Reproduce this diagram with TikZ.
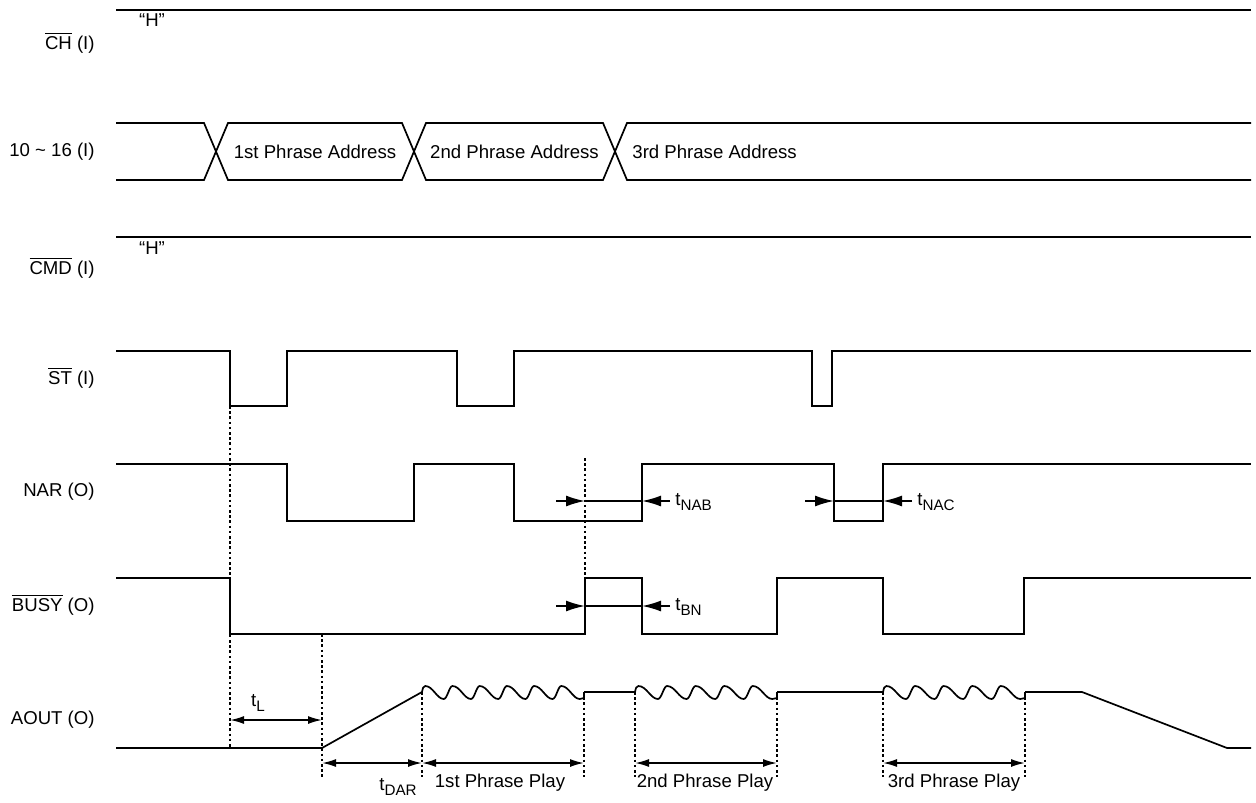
\documentclass[tikz,border=0pt]{standalone}
\usepackage{fontspec}
\setmainfont{Liberation Sans}
\usetikzlibrary{arrows.meta}
\newcommand\ovl[1]{$\overline{\mbox{#1}}$}
\newcommand\sbs[1]{\raisebox{-2.2pt}{\fontsize{7.6}{9}\selectfont #1}}
% #1 start x, #2 period, #3 number of full humps minus 1, #4 end x
\newcommand\wavy[4]{%
  \draw[sig] (#1,692) .. controls ({#1+0.04*#2},687) .. ({#1+0.12*#2},686)
    \foreach \k in {0,...,#3} {
      .. controls ({#1+(\k+0.4)*#2},686) and ({#1+(\k+0.55)*#2},699) .. ({#1+(\k+0.8)*#2},699)
      .. controls ({#1+(\k+0.93)*#2},699) and ({#1+(\k+1.0)*#2},686) .. ({#1+(\k+1.12)*#2},686)
    }
    .. controls ({#1+(#3+1.4)*#2},686) and ({#1+(#3+1.55)*#2},699) .. ({#1+(#3+1.8)*#2},699)
    -- (#4,698) -- (#4,692);%
}
\begin{document}
\begin{tikzpicture}[x=0.5pt,y=-0.5pt,
  sig/.style={line width=0.85pt, line join=miter},
  dotl/.style={line width=0.8pt, dash pattern=on 1.3pt off 1.3pt},
  lbl/.style={font=\fontsize{9.3}{11}\selectfont, inner sep=0pt},
  bigtip/.style={-{Latex[length=9.5pt,width=5.5pt]}, line width=0.85pt},
  dim/.style={{Latex[length=7pt,width=4pt]}-{Latex[length=7pt,width=4pt]}, line width=0.85pt}]
\useasboundingbox (0,0) rectangle (1256,802);

% left labels
\node[lbl, anchor=east] (lch) at (95,43) {\ovl{CH} (I)};
\node[lbl, anchor=east] (lad) at (95,152) {10 \char"007E{} 16 (I)};
\node[lbl, anchor=east] (lcmd) at (95,268) {\ovl{CMD} (I)};
\node[lbl, anchor=east] (lst) at (95,378) {\ovl{ST} (I)};
\node[lbl, anchor=east] (lnar) at (95,492) {NAR (O)};
\node[lbl, anchor=east] (lbusy) at (95,605) {\ovl{BUSY} (O)};
\node[lbl, anchor=east] (laout) at (95,720) {AOUT (O)};

% CH
\draw[sig] (116,10) -- (1251,10);
\node[lbl] (hch) at (152,20) {“H”};

% address bus
\draw[sig] (116,123) -- (204,123) -- (228,180) -- (402,180) -- (426,123) -- (603,123) -- (627,180) -- (1251,180);
\draw[sig] (116,180) -- (204,180) -- (228,123) -- (402,123) -- (426,180) -- (603,180) -- (627,123) -- (1251,123);
\node[lbl] (a1) at (315,152) {1st Phrase Address};
\node[lbl] (a2) at (514.5,152) {2nd Phrase Address};
\node[lbl, anchor=west] (a3) at (632,152) {3rd Phrase Address};

% CMD
\draw[sig] (116,237) -- (1251,237);
\node[lbl] (hcmd) at (152,248) {“H”};

% ST
\draw[sig] (116,351) -- (230,351) -- (230,406) -- (287,406) -- (287,351) -- (457,351) -- (457,406) -- (514,406) -- (514,351) -- (812,351) -- (812,406) -- (832,406) -- (832,351) -- (1251,351);

% NAR
\draw[sig] (116,464) -- (287,464) -- (287,521) -- (414,521) -- (414,464) -- (514,464) -- (514,521) -- (642,521) -- (642,464) -- (834,464) -- (834,521) -- (883,521) -- (883,464) -- (1251,464);

% BUSY
\draw[sig] (116,578) -- (230,578) -- (230,634) -- (585,634) -- (585,578) -- (642,578) -- (642,634) -- (777,634) -- (777,578) -- (883,578) -- (883,634) -- (1024,634) -- (1024,578) -- (1251,578);

% AOUT
\draw[sig] (116,748) -- (322,748) -- (422,692);
\wavy{422}{27.2}{4}{584}
\draw[sig] (584,692) -- (635,692);
\wavy{635}{28.6}{3}{777}
\draw[sig] (777,692) -- (883,692);
\wavy{883}{28.6}{3}{1025}
\draw[sig] (1025,692) -- (1082,692) -- (1227,748) -- (1251,748);

% dotted guides
\draw[dotl] (230,406) -- (230,748);
\draw[dotl] (585,458) -- (585,578);
\draw[dotl] (322,634) -- (322,777);
\foreach \xx in {422,584,635,777,883,1025} \draw[dotl] (\xx,692) -- (\xx,777);

% NAB
\draw[bigtip] (556,501) -- (585,501);
\draw[sig] (585,501) -- (642,501);
\draw[bigtip] (670,501) -- (642,501);
\node[lbl, anchor=west] (tnab) at (675,502) {t\sbs{NAB}};
% NAC
\draw[bigtip] (805,501) -- (834,501);
\draw[sig] (834,501) -- (883,501);
\draw[bigtip] (912,501) -- (883,501);
\node[lbl, anchor=west] (tnac) at (917,502) {t\sbs{NAC}};
% BN
\draw[bigtip] (556,606) -- (585,606);
\draw[sig] (585,606) -- (642,606);
\draw[bigtip] (670,606) -- (642,606);
\node[lbl, anchor=west] (tbn) at (675,607) {t\sbs{BN}};

% tL
\draw[dim] (230,720) -- (322,720);
\node[lbl] (tl) at (258,703) {t\sbs{L}};

% bottom dimension arrows
\draw[dim] (322,763) -- (422,763);
\draw[dim] (422,763) -- (584,763);
\draw[dim] (635,763) -- (777,763);
\draw[dim] (883,763) -- (1025,763);
\node[lbl] (tdar) at (398,787) {t\sbs{DAR}};
\node[lbl] (p1) at (500,783) {1st Phrase Play};
\node[lbl] (p2) at (705,783) {2nd Phrase Play};
\node[lbl] (p3) at (954,783) {3rd Phrase Play};
\end{tikzpicture}
\end{document}
